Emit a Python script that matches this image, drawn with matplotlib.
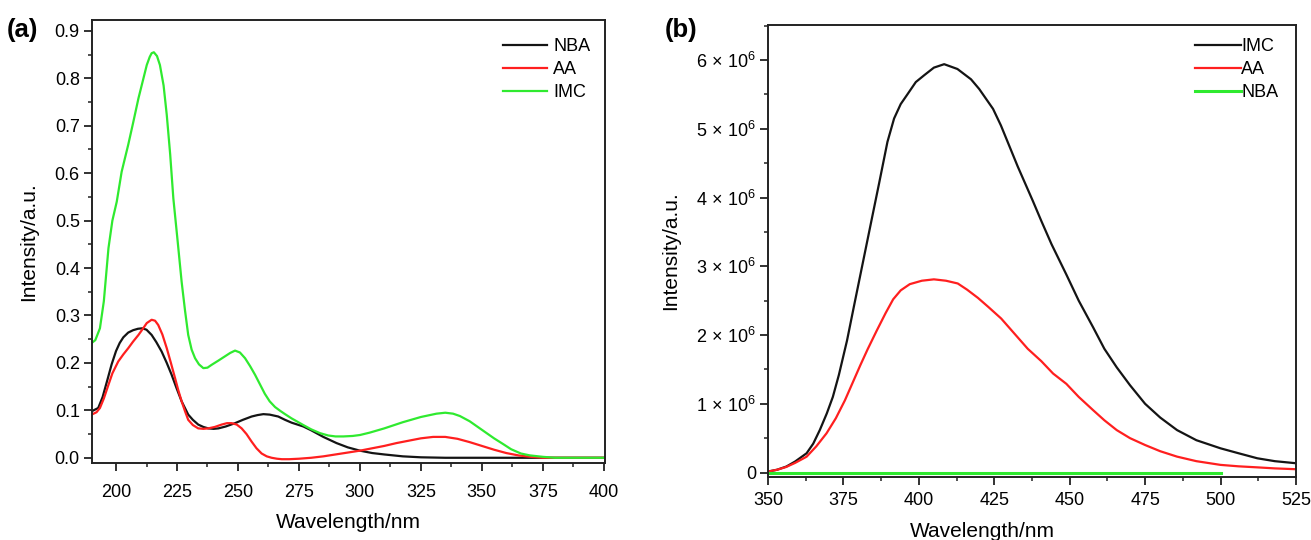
import matplotlib
matplotlib.use("Agg")
import matplotlib.pyplot as plt
from matplotlib.ticker import MultipleLocator, FuncFormatter, FormatStrFormatter

plt.rcParams["font.family"] = ["Liberation Sans", "DejaVu Sans"]
plt.rcParams["mathtext.fontset"] = "custom"
plt.rcParams["mathtext.rm"] = "Liberation Sans"
plt.rcParams["mathtext.it"] = "Liberation Sans:italic"

# ---------------- (a) UV-Vis absorption ----------------
nba_abs_x = [190, 192.7, 194.5, 196.5, 198.2, 200, 201.5, 203, 205, 207, 209, 210.8, 212.5,
             214.6, 216.5, 218.7, 220.8, 222.8, 224.8, 226.9, 229.6, 231.5, 233.7, 235.8,
             237.8, 240, 242, 245, 248.8, 252, 255.6, 258, 260.4, 263, 266.5, 269.3, 272,
             276.8, 280, 285, 290.4, 295, 300, 305, 310, 317.6, 325, 335, 350, 375, 400]
nba_abs_y = [0.098, 0.105, 0.128, 0.165, 0.197, 0.225, 0.242, 0.254, 0.264, 0.269, 0.272,
             0.273, 0.270, 0.259, 0.244, 0.224, 0.200, 0.175, 0.147, 0.119, 0.091, 0.080,
             0.070, 0.065, 0.062, 0.061, 0.062, 0.066, 0.073, 0.080, 0.087, 0.090, 0.092,
             0.091, 0.087, 0.080, 0.074, 0.066, 0.058, 0.044, 0.031, 0.022, 0.015, 0.010,
             0.007, 0.003, 0.001, 0.0, 0.0, 0.0, 0.0]

aa_abs_x = [190, 192, 193.4, 195, 196.9, 198.5, 200.9, 203, 205, 207, 209.2, 211, 212.6,
            214.6, 216, 217.3, 219, 220.8, 222.5, 224.2, 225.5, 226.9, 228.3, 229.6, 231.5,
            233.7, 235.8, 237.8, 240.5, 243.3, 245.5, 247.4, 249.5, 251.5, 253.5, 255.6,
            257.6, 259.7, 261.8, 263.8, 266, 268, 271, 275, 280, 285, 290, 295, 300, 305,
            310, 315, 320, 325, 330, 335, 340, 345, 350, 355, 360, 365, 370, 375, 380,
            390, 400]
aa_abs_y = [0.091, 0.096, 0.105, 0.125, 0.154, 0.178, 0.203, 0.218, 0.231, 0.245, 0.259,
            0.272, 0.284, 0.291, 0.289, 0.280, 0.260, 0.231, 0.200, 0.168, 0.143, 0.119,
            0.098, 0.080, 0.069, 0.062, 0.061, 0.062, 0.065, 0.070, 0.073, 0.073, 0.070,
            0.062, 0.050, 0.034, 0.020, 0.009, 0.003, 0.0, -0.002, -0.003, -0.003, -0.002,
            0.0, 0.003, 0.007, 0.011, 0.015, 0.020, 0.025, 0.031, 0.036, 0.041, 0.044,
            0.044, 0.040, 0.033, 0.025, 0.017, 0.010, 0.005, 0.002, 0.0, 0.0, 0.0, 0.0]

imc_abs_x = [190, 191.5, 193.4, 195, 196.9, 198.5, 200.3, 202.3, 205, 207, 209.2, 211,
             212.6, 213.8, 214.6, 215.5, 216.8, 218, 219.5, 220.8, 222.2, 223.5, 225.2,
             226.9, 228.3, 229.6, 231, 232.4, 234, 235.8, 237.5, 239.2, 242, 244.7, 246.8,
             248.8, 250.8, 252.9, 255, 257, 259, 261, 263, 265.2, 267.3, 269.3, 272, 276.8,
             280, 283.6, 287, 290, 293.2, 297, 300, 304, 310, 317.6, 325, 331.4, 335,
             338.2, 341, 345, 350, 355, 358.7, 362, 366, 369.7, 375, 380, 390, 400]
imc_abs_y = [0.242, 0.248, 0.273, 0.330, 0.442, 0.500, 0.540, 0.603, 0.660, 0.706, 0.758,
             0.795, 0.828, 0.845, 0.853, 0.855, 0.847, 0.828, 0.785, 0.723, 0.640, 0.547,
             0.460, 0.371, 0.310, 0.259, 0.228, 0.210, 0.197, 0.189, 0.190, 0.196, 0.205,
             0.214, 0.221, 0.226, 0.222, 0.210, 0.193, 0.175, 0.155, 0.135, 0.119, 0.107,
             0.099, 0.092, 0.083, 0.069, 0.060, 0.052, 0.047, 0.045, 0.045, 0.046, 0.048,
             0.053, 0.062, 0.075, 0.086, 0.093, 0.095, 0.093, 0.088, 0.077, 0.059, 0.041,
             0.029, 0.018, 0.009, 0.005, 0.002, 0.0, 0.0, 0.0]

# ---------------- (b) fluorescence emission (units of 1e6) ----------------
imc_em_x = [350, 353, 356.1, 359, 362.8, 365, 367.2, 369.5, 371.5, 373.5, 376.2, 378.5,
            381.2, 384.6, 386.8, 389.6, 391.8, 394, 396.2, 399, 401.8, 405, 408.4, 412.8,
            417.3, 420, 424.6, 427.2, 432.8, 437.8, 440.6, 444, 448.9, 453, 457.8, 461.5,
            465.6, 470, 475, 480, 485.6, 492, 500, 506, 512.2, 518, 525]
imc_em_y = [0.014, 0.04, 0.087, 0.16, 0.28, 0.42, 0.62, 0.86, 1.10, 1.42, 1.92, 2.42,
            3.0, 3.73, 4.2, 4.81, 5.15, 5.36, 5.50, 5.68, 5.78, 5.89, 5.94, 5.87, 5.72,
            5.58, 5.29, 5.05, 4.45, 3.95, 3.66, 3.32, 2.88, 2.50, 2.11, 1.80, 1.53, 1.27,
            1.0, 0.80, 0.617, 0.47, 0.352, 0.28, 0.207, 0.165, 0.135]

aa_em_x = [350, 353, 356, 359, 362.8, 366, 369.4, 372.5, 375.5, 378, 380.6, 383, 386,
           389, 391.5, 394, 397, 401, 405, 409, 412.9, 416, 419.6, 423, 427.3, 431.5,
           436.1, 440.6, 444.5, 448.9, 453, 457.8, 461.5, 465.6, 470, 475, 480, 485.6, 492,
           500, 506, 512.2, 518, 525]
aa_em_y = [0.014, 0.04, 0.08, 0.14, 0.23, 0.38, 0.57, 0.79, 1.05, 1.30, 1.56, 1.79, 2.06,
           2.32, 2.52, 2.65, 2.74, 2.79, 2.81, 2.79, 2.75, 2.66, 2.54, 2.41, 2.24, 2.03,
           1.80, 1.62, 1.44, 1.29, 1.10, 0.906, 0.76, 0.617, 0.50, 0.40, 0.31, 0.231,
           0.165, 0.111, 0.09, 0.075, 0.06, 0.048]

nba_em_x = [350, 375, 400, 425, 450, 475, 500]
nba_em_y = [0, 0, 0, 0, 0, 0, 0]

BLACK = "#141414"
RED = "#ff1f1f"
GREEN = "#2fea2f"
LW = 1.6
TICK_FS = 13
LEG_FS = 13
LABEL_FS = 15

fig = plt.figure(figsize=(13.11, 5.40), dpi=100)
ax1 = fig.add_axes([0.0699, 0.1426, 0.3916, 0.820])
ax2 = fig.add_axes([0.5858, 0.1167, 0.4027, 0.837])

for ax in (ax1, ax2):
    for sp in ax.spines.values():
        sp.set_linewidth(1.4)
        sp.set_color("#222222")
    ax.tick_params(which="major", direction="out", length=5.5, width=1.3,
                   labelsize=TICK_FS, colors="#222222", pad=3)
    ax.tick_params(which="minor", direction="out", length=2.8, width=1.1, colors="#222222")
    ax.tick_params(labelcolor="black")

# panel (a)
ax1.plot(nba_abs_x, nba_abs_y, color=BLACK, lw=LW, label="NBA")
ax1.plot(aa_abs_x, aa_abs_y, color=RED, lw=LW, label="AA")
ax1.plot(imc_abs_x, imc_abs_y, color=GREEN, lw=LW, label="IMC")
ax1.set_xlim(190, 400.5)
ax1.set_ylim(-0.011, 0.9226)
ax1.xaxis.set_major_locator(MultipleLocator(25))
ax1.xaxis.set_minor_locator(MultipleLocator(12.5))
ax1.yaxis.set_major_locator(MultipleLocator(0.1))
ax1.yaxis.set_minor_locator(MultipleLocator(0.05))
ax1.yaxis.set_major_formatter(FormatStrFormatter("%.1f"))
ax1.tick_params(axis="x", which="major", pad=9.5)
ax1.set_xlabel("Wavelength/nm", fontsize=LABEL_FS)
ax1.set_ylabel("Intensity/a.u.", fontsize=LABEL_FS)
ax1.xaxis.set_label_coords(0.5, -0.112)
ax1.yaxis.set_label_coords(-0.104, 0.5)
ax1.legend(loc="upper left", bbox_to_anchor=(0.3837, 0.9296),
           bbox_transform=fig.transFigure, frameon=False, fontsize=LEG_FS,
           handlelength=2.44, handletextpad=0.33, labelspacing=0.33,
           borderpad=0, borderaxespad=0)
fig.text(0.005, 0.944, "(a)", fontsize=18.5, fontweight="bold", va="center")

# panel (b)
ax2.plot(imc_em_x, imc_em_y, color=BLACK, lw=LW, label="IMC")
ax2.plot(aa_em_x, aa_em_y, color=RED, lw=LW, label="AA")
ax2.plot(nba_em_x, nba_em_y, color=GREEN, lw=LW + 0.6, label="NBA")
ax2.set_xlim(350, 525)
ax2.set_ylim(-0.065, 6.51)
ax2.xaxis.set_major_locator(MultipleLocator(25))
ax2.xaxis.set_minor_locator(MultipleLocator(12.5))
ax2.yaxis.set_major_locator(MultipleLocator(1))
ax2.yaxis.set_minor_locator(MultipleLocator(0.5))


def sci_label(v, pos):
    n = int(round(v))
    if n == 0:
        return "0"
    return r"$%d\,\times\,10^{6}$" % n


ax2.yaxis.set_major_formatter(FuncFormatter(sci_label))
ax2.tick_params(axis="x", which="major", pad=5.2)
ax2.set_xlabel("Wavelength/nm", fontsize=LABEL_FS)
ax2.set_ylabel("Intensity/a.u.", fontsize=LABEL_FS)
ax2.xaxis.set_label_coords(0.407, -0.1)
ax2.yaxis.set_label_coords(-0.167, 0.5)
ax2.legend(loc="upper left", bbox_to_anchor=(0.9115, 0.9296),
           bbox_transform=fig.transFigure, frameon=False, fontsize=LEG_FS,
           handlelength=2.53, handletextpad=0.03, labelspacing=0.33,
           borderpad=0, borderaxespad=0)
fig.text(0.507, 0.944, "(b)", fontsize=18.5, fontweight="bold", va="center")

fig.savefig("out.png", dpi=100)
